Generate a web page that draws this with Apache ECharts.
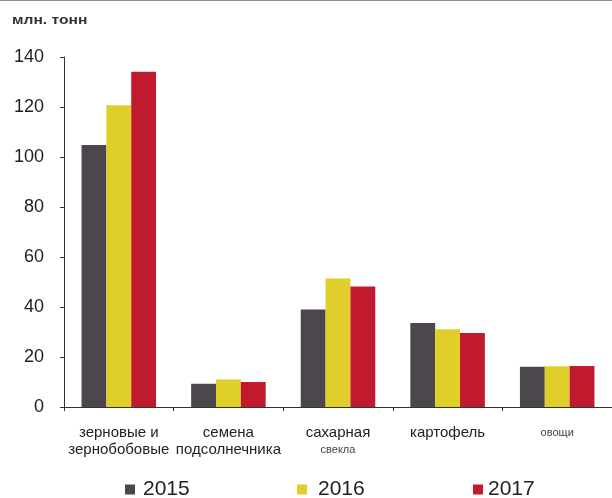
<!DOCTYPE html>
<html>
<head>
<meta charset="utf-8">
<script src="https://cdn.jsdelivr.net/npm/echarts@6/dist/echarts.min.js"></script>
<style>
  html, body { margin: 0; padding: 0; background: #fff; }
  #chart { width: 612px; height: 498px; border-top: 1px solid #8c8c8c; box-sizing: border-box; }
</style>
</head>
<body>
<div id="chart"></div>
<script>
// Урожай основных культур, млн. тонн
const categories = ['зерновые и\nзернобобовые', 'семена\nподсолнечника', 'сахарная\nсвекла', 'картофель', 'овощи'];
const years = ['2015', '2016', '2017'];
const values2015 = [104.8, 9.3, 39.0, 33.6, 16.1];
const values2016 = [120.7, 11.0, 51.4, 31.1, 16.3];
const values2017 = [134.1, 10.0, 48.2, 29.6, 16.4];
const yTicks = { min: 0, max: 140, interval: 20 };

const colors = ['#4b474c', '#e0cf2a', '#c11a2f'];
const seriesData = [values2015, values2016, values2017];

// words printed in the smaller spaced type under the axis
const smallWords = ['свекла', 'овощи'];

const chart = echarts.init(document.getElementById('chart'));

const legendLeft = [125, 297, 473];
const legendGap = [8, 11, 5];

chart.setOption({
  animation: false,
  textStyle: { fontFamily: '"Liberation Sans", Arial, sans-serif' },
  graphic: [{
    type: 'text',
    x: 12,
    y: 14,
    scaleX: 1.3,
    style: { text: 'млн. тонн', font: 'bold 12px "Liberation Sans", Arial, sans-serif', fill: '#333' }
  }],
  legend: years.map((y, i) => ({
    data: [y],
    left: legendLeft[i],
    top: 478,
    padding: 0,
    itemWidth: 10,
    itemHeight: 10,
    itemGap: 0,
    icon: 'rect',
    textStyle: { fontSize: 21, color: '#222', padding: [0, 0, 0, legendGap[i] - 5] }
  })),
  grid: { left: 64, right: -3, top: 56, bottom: 91, containLabel: false },
  xAxis: {
    type: 'category',
    data: categories,
    axisLine: { lineStyle: { color: '#333', width: 1 } },
    axisTick: { show: true, alignWithLabel: false, length: 4, lineStyle: { color: '#333' } },
    axisLabel: {
      fontSize: 15,
      color: '#222',
      lineHeight: 17,
      margin: 17,
      interval: 0,
      formatter: (v) => v.split('\n').map(w => smallWords.includes(w) ? '{s|' + w + '}' : w).join('\n'),
      rich: { s: { fontSize: 11, color: '#444', lineHeight: 17 } }
    }
  },
  yAxis: {
    type: 'value',
    min: yTicks.min,
    max: yTicks.max,
    interval: yTicks.interval,
    splitLine: { show: false },
    axisLine: { show: true, lineStyle: { color: '#333', width: 1 } },
    axisTick: { show: true, length: 4, lineStyle: { color: '#333' } },
    axisLabel: { fontSize: 18, color: '#222', margin: 20 }
  },
  series: years.map((y, i) => ({
    name: y,
    type: 'bar',
    data: seriesData[i],
    itemStyle: { color: colors[i] },
    barGap: '0%',
    barCategoryGap: '32%'
  }))
});
</script>
</body>
</html>
